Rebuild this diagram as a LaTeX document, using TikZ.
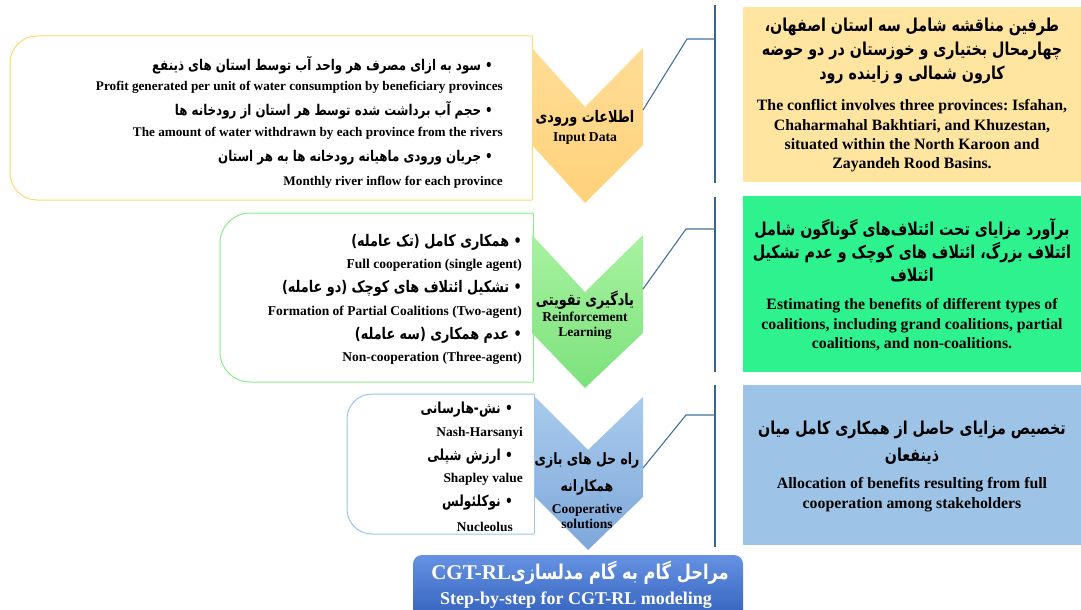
\documentclass[tikz,border=0pt]{standalone}
\usepackage{fontspec}
\setmainfont{Liberation Serif}
\newfontfamily\fafont[Script=Arabic,FakeStretch=0.8]{DejaVu Sans}
\TeXXeTstate=1
\frenchspacing
\usetikzlibrary{calc}

\definecolor{linkblue}{HTML}{41719C}
\definecolor{ylwline}{HTML}{FFD966}
\definecolor{ylwbox}{HTML}{FFE5A0}
\definecolor{ylwtop}{HTML}{FFDC96}
\definecolor{ylwbot}{HTML}{FFD27A}
\definecolor{grnline}{HTML}{8CEB8C}
\definecolor{grnbox}{HTML}{2EF28E}
\definecolor{grntop}{HTML}{A8F2A0}
\definecolor{grnbot}{HTML}{7CE27C}
\definecolor{bluline}{HTML}{9DC3E6}
\definecolor{blubox}{HTML}{9DC3E6}
\definecolor{blutop}{HTML}{A9CAEC}
\definecolor{blubot}{HTML}{7EA8DA}
\definecolor{titletop}{HTML}{6592E2}
\definecolor{titlebot}{HTML}{2F5DBA}

\begin{document}
\begin{tikzpicture}[x=1pt,y=-1pt,
  en/.style={font=\bfseries\fontsize{#1}{#1}\selectfont, inner sep=0pt},
  en/.default=13.2,
  fa/.style={font=\fafont\bfseries\fontsize{#1}{#1}\selectfont, inner sep=0pt},
  fa/.default=15.2,
  frame/.style={line width=1pt, rounded corners=#1},
  chev/.style={draw=none},
  link/.style={draw=linkblue, line width=1.1pt},
  rail/.style={draw=linkblue!90!black, line width=2pt},
]
\useasboundingbox (0,0) rectangle (1081,610);

% ---------- left outlined boxes (rounded on the left side only) ----------
\draw[frame=27pt, draw=ylwline] (532,36) -- (10,36) -- (10,200) -- (532,200);
\draw[draw=ylwline, line width=1pt] (532,36) -- (532,200);
\draw[frame=30pt, draw=grnline] (533,213) -- (220,213) -- (220,382) -- (533,382);
\draw[draw=grnline, line width=1pt] (533,213) -- (533,382);
\draw[frame=25pt, draw=bluline] (534,394) -- (347,394) -- (347,534) -- (534,534);
\draw[draw=bluline, line width=1pt] (534,394) -- (534,534);

% ---------- chevrons ----------
\shade[chev, top color=ylwtop, bottom color=ylwbot]
  (532,48) -- (585,107) -- (643,48) -- (643,145) -- (585,203) -- (532,145) -- cycle;
\shade[chev, top color=grntop, bottom color=grnbot]
  (532,235) -- (585,292) -- (643,235) -- (643,333) -- (585,388) -- (532,333) -- cycle;
\shade[chev, top color=blutop, bottom color=blubot]
  (535,397) -- (588,450) -- (643,397) -- (643,497) -- (588,550) -- (535,497) -- cycle;

\coordinate (ch1) at (643,110);
\coordinate (ch2) at (643,289);
\coordinate (ch3) at (643,468);

% ---------- right information boxes ----------
\fill[ylwbox] (743,7) rectangle (1081,182);
\fill[grnbox] (743,196) rectangle (1081,372);
\fill[blubox] (743,385) rectangle (1081,545);

% ---------- rails and elbow connectors ----------
\coordinate (r1t) at (715,5);   \coordinate (r1b) at (715,183);
\coordinate (r2t) at (715,197); \coordinate (r2b) at (715,372);
\coordinate (r3t) at (715,385); \coordinate (r3b) at (715,547);
\draw[rail] (r1t) -- (r1b);
\draw[rail] (r2t) -- (r2b);
\draw[rail] (r3t) -- (r3b);

\coordinate (k1) at (687,39);  \coordinate (r1m) at (715,39);
\coordinate (k2) at (686,229); \coordinate (r2m) at (715,229);
\coordinate (k3) at (686,415); \coordinate (r3m) at (715,415);
\draw[link] (ch1) -- (k1) -- (r1m);
\draw[link] (ch2) -- (k2) -- (r2m);
\draw[link] (ch3) -- (k3) -- (r3m);

% ---------- input data list ----------
\node[fa=14.8, anchor=east] (a1) at (493,65) {\beginR • سود به ازای مصرف هر واحد آب توسط استان های ذینفع\endR};
\node[en, anchor=east] (a1e) at (503,87) {Profit generated per unit of water consumption by beneficiary provinces};
\node[fa=14.8, anchor=east] (a2) at (493,110) {\beginR • حجم آب برداشت شده توسط هر استان از رودخانه ها\endR};
\node[en, anchor=east] (a2e) at (503,133) {The amount of water withdrawn by each province from the rivers};
\node[fa=14.8, anchor=east] (a3) at (493,158) {\beginR • جریان ورودی ماهیانه رودخانه ها به هر استان\endR};
\node[en, anchor=east] (a3e) at (503,182) {Monthly river inflow for each province};

% ---------- coalition list ----------
\node[fa=16, anchor=east] (b1) at (522,242) {\beginR • همکاری کامل (تک عامله)\endR};
\node[en=13.5, anchor=east] (b1e) at (522,265) {Full cooperation (single agent)};
\node[fa=16, anchor=east] (b2) at (522,288) {\beginR • تشکیل ائتلاف های کوچک (دو عامله)\endR};
\node[en=13.5, anchor=east] (b2e) at (522,312) {Formation of Partial Coalitions (Two-agent)};
\node[fa=16, anchor=east] (b3) at (522,335) {\beginR • عدم همکاری (سه عامله)\endR};
\node[en=13.5, anchor=east] (b3e) at (522,358) {Non-cooperation (Three-agent)};

% ---------- solution concepts ----------
\node[fa, anchor=east] (s1) at (513,410) {\beginR • نش-هارسانی\endR};
\node[en=13.4, anchor=east] (s1e) at (523,433) {Nash-Harsanyi};
\node[fa, anchor=east] (s2) at (513,457) {\beginR • ارزش شپلی\endR};
\node[en=13.4, anchor=east] (s2e) at (523,479) {Shapley value};
\node[fa, anchor=east] (s3) at (513,503) {\beginR • نوکلئولس\endR};
\node[en=13.4, anchor=east] (s3e) at (513,527) {Nucleolus};

% ---------- chevron captions ----------
\node[fa=16] (c1) at (585,118) {\beginR اطلاعات ورودی\endR};
\node[en=13.6] (c1e) at (585,138) {Input Data};
\node[fa=16] (c2) at (585,300) {\beginR یادگیری تقویتی\endR};
\node[align=center, inner sep=0pt, font=\bfseries\fontsize{13.5}{15}\selectfont] (c2e) at (585,326) {Reinforcement\\Learning};
\node[fa=15.6] (c3) at (587,460) {\beginR راه حل های بازی\endR};
\node[fa=15.6] (c3b) at (587,487) {\beginR همکارانه\endR};
\node[align=center, inner sep=0pt, font=\bfseries\fontsize{13.5}{15}\selectfont] (c3e) at (587,516) {Cooperative\\solutions};

% ---------- information box texts ----------
\node[align=center, inner sep=0pt, font=\fafont\bfseries\fontsize{17.8}{24}\selectfont] (p1) at (912,51)
  {\beginR طرفین مناقشه شامل سه استان اصفهان،\endR\\
   \beginR چهارمحال بختیاری و خوزستان در دو حوضه\endR\\
   \beginR کارون شمالی و زاینده رود\endR};
\node[align=center, inner sep=0pt, font=\bfseries\fontsize{15.8}{19.3}\selectfont] (p1e) at (912,136)
  {The conflict involves three provinces: Isfahan,\\
   Chaharmahal Bakhtiari, and Khuzestan,\\
   situated within the North Karoon and\\
   Zayandeh Rood Basins.};

\node[align=center, inner sep=0pt, font=\fafont\bfseries\fontsize{17.8}{23}\selectfont] (p2) at (912,250)
  {\beginR برآورد مزایای تحت ائتلاف‌های گوناگون شامل\endR\\
   \beginR ائتلاف بزرگ، ائتلاف های کوچک و عدم تشکیل\endR\\
   \beginR ائتلاف\endR};
\node[align=center, inner sep=0pt, font=\bfseries\fontsize{15.8}{19.5}\selectfont] (p2e) at (912,325)
  {Estimating the benefits of different types of\\
   coalitions, including grand coalitions, partial\\
   coalitions, and non-coalitions.};

\node[align=center, inner sep=0pt, font=\fafont\bfseries\fontsize{17.8}{27}\selectfont] (p3) at (912,443)
  {\beginR تخصیص مزایای حاصل از همکاری کامل میان\endR\\
   \beginR ذینفعان\endR};
\node[align=center, inner sep=0pt, font=\bfseries\fontsize{15.8}{20}\selectfont] (p3e) at (912,495)
  {Allocation of benefits resulting from full\\
   cooperation among stakeholders};

% ---------- title banner ----------
\shade[top color=titletop, bottom color=titlebot, rounded corners=9pt]
  (413,555) rectangle (743,625);
\node[fa=20.3, text=white] (t1) at (580,573)
  {\beginR مراحل گام به گام مدلسازی\beginL{\rmfamily\fontsize{21}{21}\selectfont CGT-RL}\endL\endR};
\node[en=18, text=white] (t2) at (576,600) {Step-by-step for CGT-RL modeling};
\end{tikzpicture}
\end{document}
